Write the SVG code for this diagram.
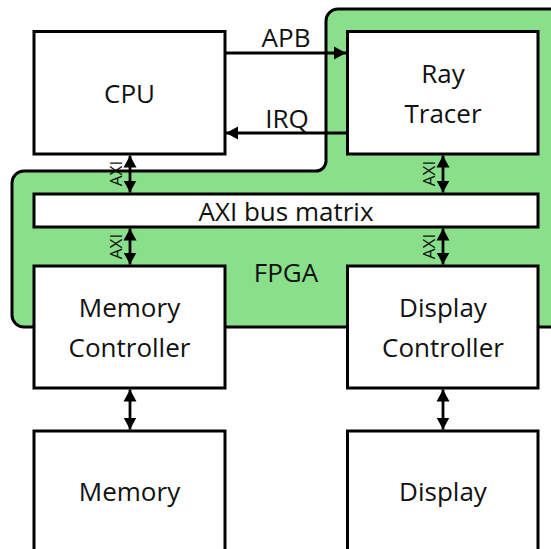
<svg xmlns="http://www.w3.org/2000/svg" width="551" height="549" viewBox="0 0 551 549">
<defs>
<marker id="ah" markerUnits="userSpaceOnUse" markerWidth="13" markerHeight="14" refX="12" refY="6.5" orient="auto-start-reverse" viewBox="0 0 13 13">
<path d="M0,0 L12,6.5 L0,13 z" fill="#000"/>
</marker>
</defs>
<style>
.box{fill:#fff;stroke:#000;stroke-width:3}
.lbl{font-family:"Open Sans","Noto Sans","DejaVu Sans",sans-serif;font-size:26px;fill:#111;text-anchor:middle}
.axi{font-family:"Open Sans","Noto Sans","DejaVu Sans",sans-serif;font-size:17px;fill:#111;text-anchor:middle}
.ln{stroke:#000;stroke-width:2.8;fill:none}
</style>
<rect width="551" height="549" fill="#fff"/>
<g id="fpga">
<path d="M24,171 L316,171 A10,10 0 0 0 326,161 L326,21 A12,12 0 0 1 338,9 L565,9 L565,327 L24,327 A12,12 0 0 1 12,315 L12,183 A12,12 0 0 1 24,171 Z" fill="#8ADF8A" stroke="#000" stroke-width="3"/>
<text class="lbl" x="286" y="282">FPGA</text>
</g>
<g id="cpu">
<rect class="box" x="34" y="31.5" width="191" height="122.5"/>
<text class="lbl" x="129.5" y="103">CPU</text>
</g>
<g id="raytracer">
<rect class="box" x="347.5" y="31.5" width="190.5" height="122.5"/>
<text class="lbl" x="443" y="83">Ray</text>
<text class="lbl" x="443" y="123">Tracer</text>
</g>
<g id="busmatrix">
<rect class="box" x="34" y="194" width="504" height="33"/>
<text class="lbl" x="286" y="221">AXI bus matrix</text>
</g>
<g id="memctrl">
<rect class="box" x="34" y="266" width="191" height="122"/>
<text class="lbl" x="129.5" y="317">Memory</text>
<text class="lbl" x="129.5" y="357">Controller</text>
</g>
<g id="dispctrl">
<rect class="box" x="347.5" y="266" width="190.5" height="122"/>
<text class="lbl" x="443" y="317">Display</text>
<text class="lbl" x="443" y="357">Controller</text>
</g>
<g id="memory">
<rect class="box" x="34" y="431" width="191" height="130"/>
<text class="lbl" x="129.5" y="501">Memory</text>
</g>
<g id="display">
<rect class="box" x="347.5" y="431" width="190.5" height="130"/>
<text class="lbl" x="443" y="501">Display</text>
</g>
<g id="connectors">
<line class="ln" x1="226" y1="53" x2="346" y2="53" marker-end="url(#ah)"/>
<text class="lbl" x="286" y="47">APB</text>
<line class="ln" x1="346" y1="133" x2="226" y2="133" marker-end="url(#ah)"/>
<text class="lbl" x="287" y="128">IRQ</text>
<line class="ln" x1="130" y1="155.5" x2="130" y2="192.5" marker-start="url(#ah)" marker-end="url(#ah)"/>
<text class="axi" transform="translate(121.5,173.5) rotate(-90)">AXI</text>
<line class="ln" x1="130" y1="228.5" x2="130" y2="264.5" marker-start="url(#ah)" marker-end="url(#ah)"/>
<text class="axi" transform="translate(121.5,246.5) rotate(-90)">AXI</text>
<line class="ln" x1="443" y1="155.5" x2="443" y2="192.5" marker-start="url(#ah)" marker-end="url(#ah)"/>
<text class="axi" transform="translate(434.5,173.5) rotate(-90)">AXI</text>
<line class="ln" x1="443" y1="228.5" x2="443" y2="264.5" marker-start="url(#ah)" marker-end="url(#ah)"/>
<text class="axi" transform="translate(434.5,246.5) rotate(-90)">AXI</text>
<line class="ln" x1="130" y1="389.5" x2="130" y2="429.5" marker-start="url(#ah)" marker-end="url(#ah)"/>
<line class="ln" x1="443" y1="389.5" x2="443" y2="429.5" marker-start="url(#ah)" marker-end="url(#ah)"/>
</g>
</svg>
